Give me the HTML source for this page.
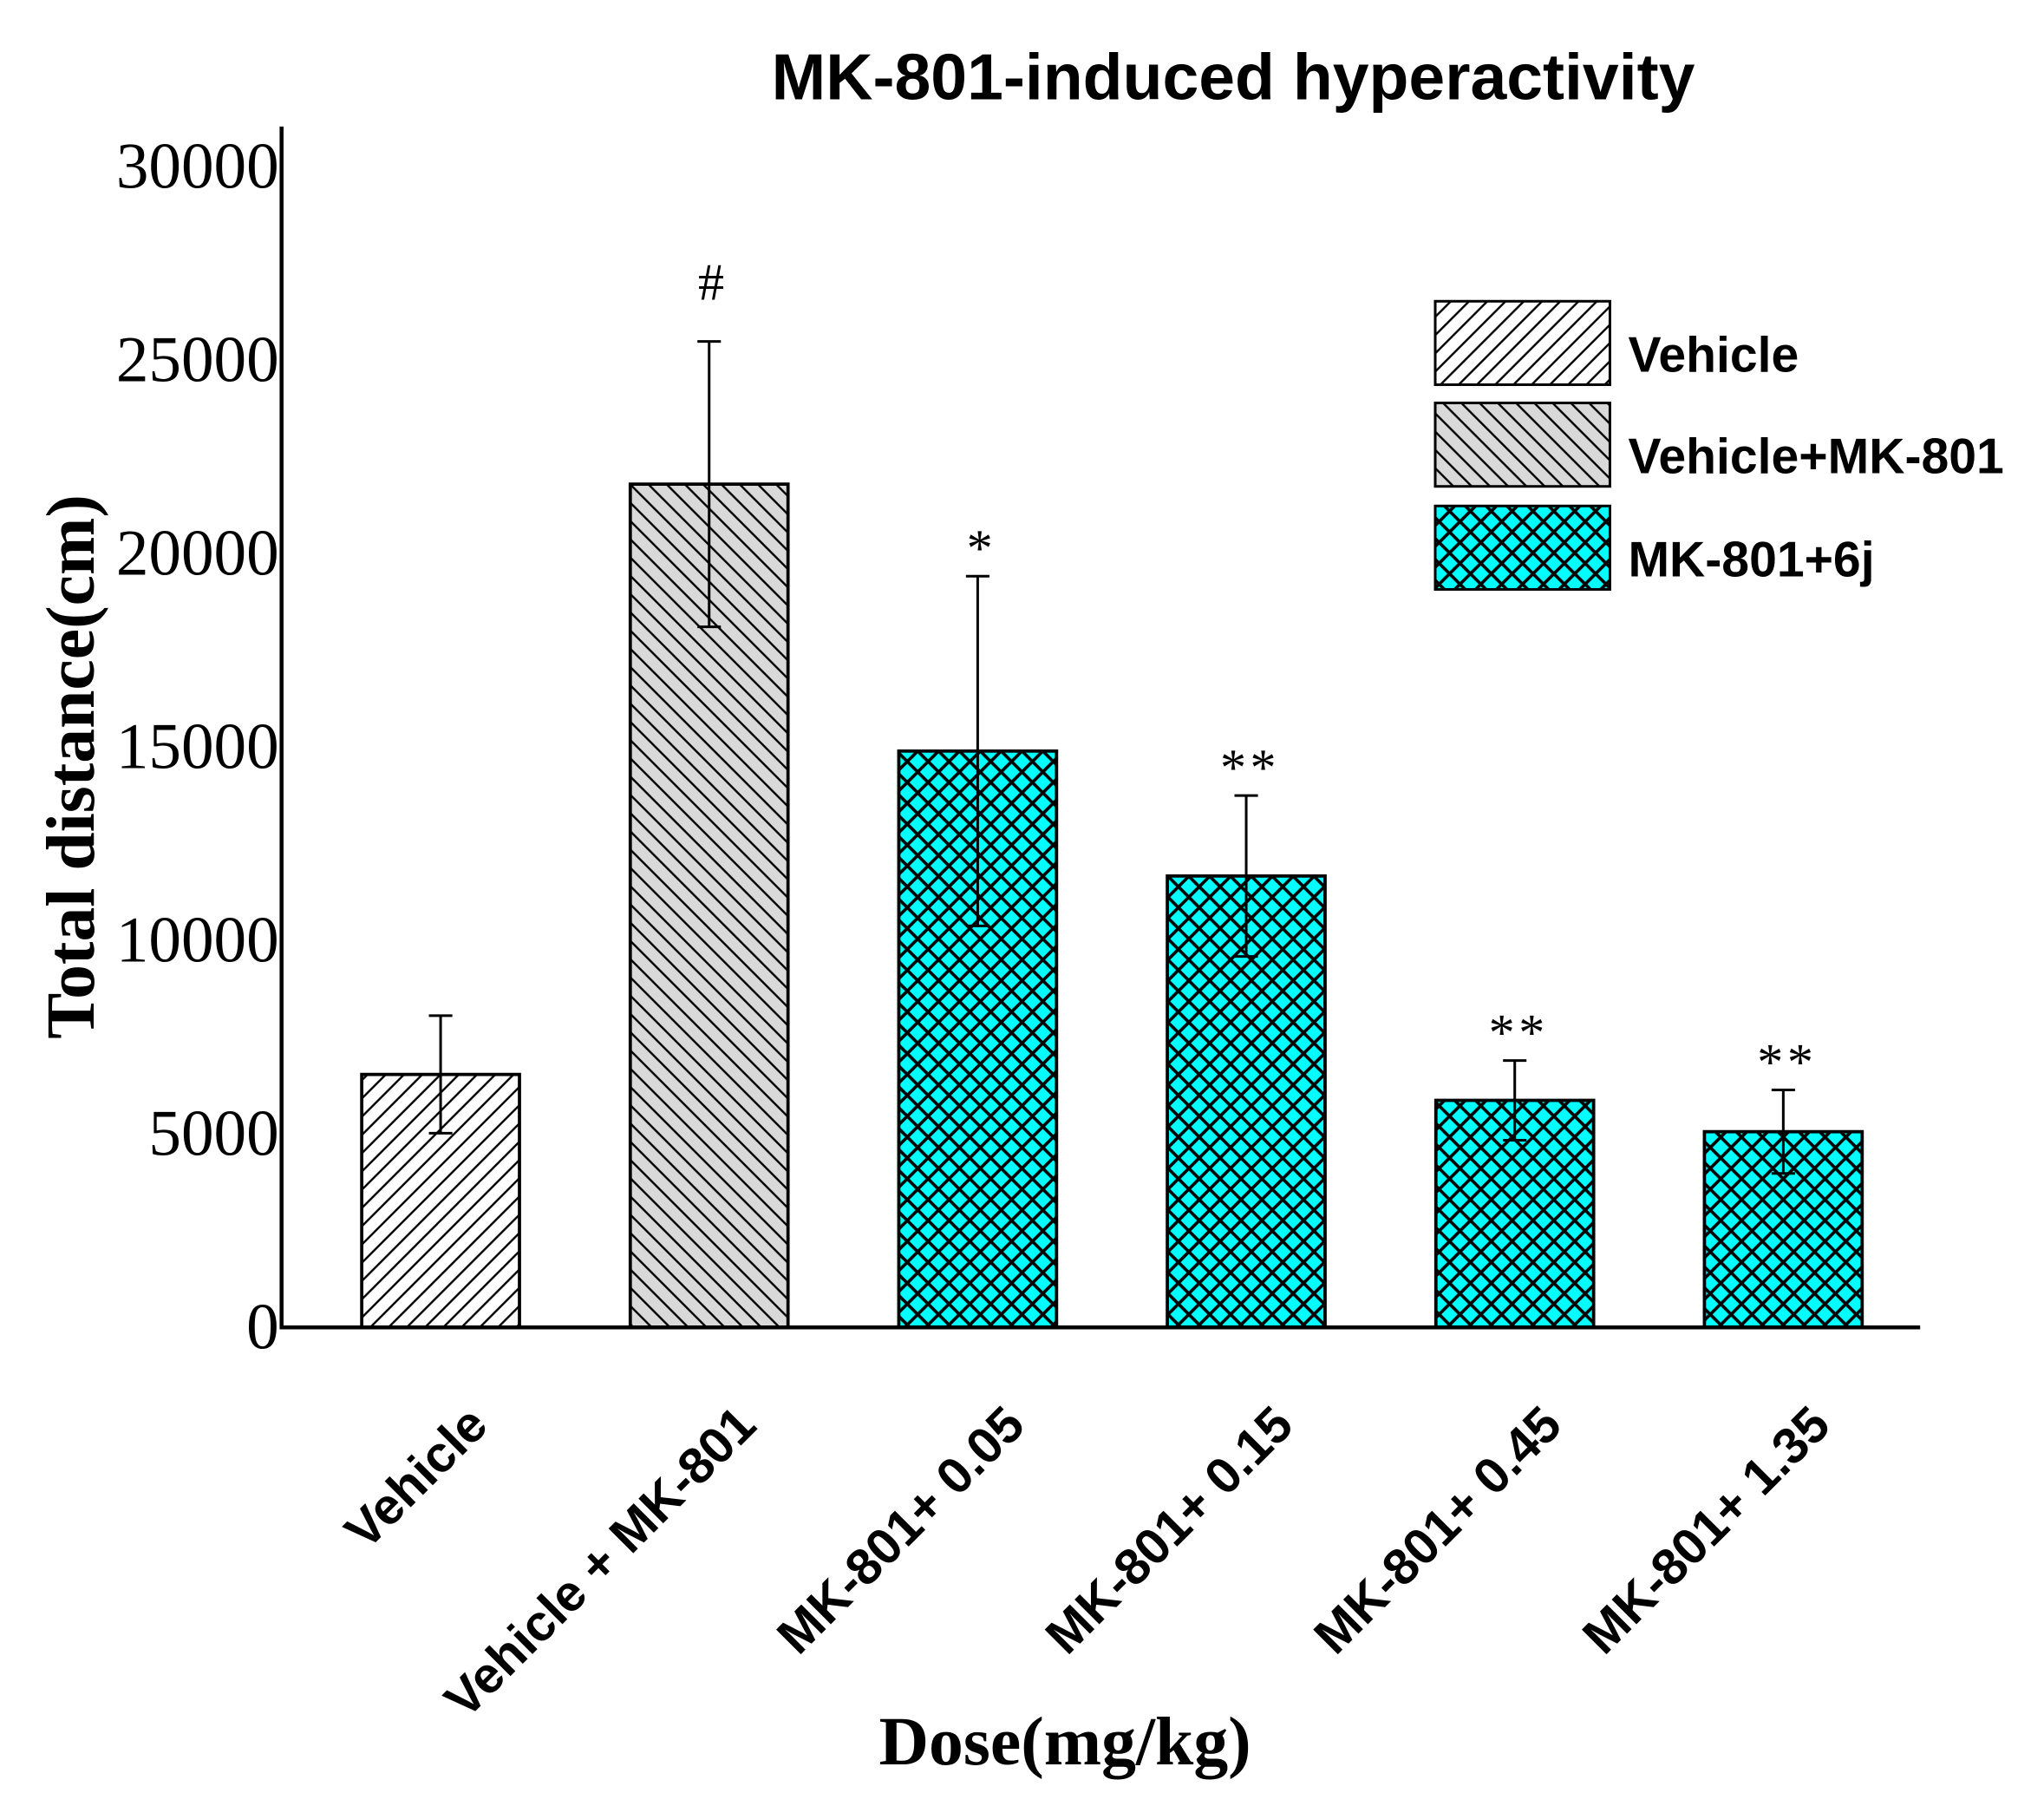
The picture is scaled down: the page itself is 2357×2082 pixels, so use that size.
<!DOCTYPE html>
<html><head><meta charset="utf-8"><style>html,body{margin:0;padding:0;background:#fff}svg{display:block}</style></head>
<body>
<svg id="chart" xmlns="http://www.w3.org/2000/svg" width="2357" height="2082" viewBox="0 0 1568 1385">
<defs>
<pattern id="pVeh" patternUnits="userSpaceOnUse" width="14" height="14">
<rect width="14" height="14" fill="#fff"/><path d="M-2,16 L16,-2 M-2,2 L2,-2 M12,16 L16,12" stroke="#000" stroke-width="1.6"/></pattern>
<pattern id="pMK" patternUnits="userSpaceOnUse" width="14" height="14">
<rect width="14" height="14" fill="#d9d9d9"/><path d="M-2,-2 L16,16 M-2,12 L2,16 M12,-2 L16,2" stroke="#000" stroke-width="1.6"/></pattern>
<pattern id="p6j" patternUnits="userSpaceOnUse" width="16" height="16">
<rect width="16" height="16" fill="#00ffff"/><path d="M-2,-2 L18,18 M-2,18 L18,-2 M-2,14 L2,18 M14,-2 L18,2 M-2,2 L2,-2 M14,18 L18,14" stroke="#000" stroke-width="2.4"/></pattern>
</defs>
<text x="946" y="76" text-anchor="middle" font-family="Liberation Sans, sans-serif" font-weight="bold" font-size="50">MK-801-induced hyperactivity</text>
<g id="plot"></g>
<text transform="translate(72,588) rotate(-90)" text-anchor="middle" font-family="Liberation Serif, serif" font-weight="bold" font-size="53">Total distance(cm)</text>
<text x="817" y="1353" text-anchor="middle" font-family="Liberation Serif, serif" font-weight="bold" font-size="53">Dose(mg/kg)</text>
<g font-family="Liberation Sans, sans-serif" font-weight="bold" font-size="38">
<rect x="1101" y="231" width="134" height="64" fill="url(#pVeh)" stroke="#000" stroke-width="2"/>
<text x="1249" y="285">Vehicle</text>
<rect x="1101" y="309" width="134" height="64" fill="url(#pMK)" stroke="#000" stroke-width="2"/>
<text x="1249" y="363">Vehicle+MK-801</text>
<rect x="1101" y="388" width="134" height="64" fill="url(#p6j)" stroke="#000" stroke-width="2"/>
<text x="1249" y="442">MK-801+6j</text>
</g>
</svg>
<script>
const categories = ["Vehicle","Vehicle + MK-801","MK-801+ 0.05","MK-801+ 0.15","MK-801+ 0.45","MK-801+ 1.35"];
const means = [6540, 21800, 14900, 11670, 5870, 5060];
const errors = [1520, 3690, 4520, 2080, 1030, 1080];
const groups = ["veh","mk","6j","6j","6j","6j"];
const marks = ["", "#", "*", "**", "**", "**"];
const yTicks = [0, 5000, 10000, 15000, 20000, 25000, 30000];

const NS = "http://www.w3.org/2000/svg";
const g = document.getElementById("plot");
const x0 = 216, xEnd = 1473, yBase = 1018, yTop = 128, yMax = 30000;
const y = v => yBase - (v / yMax) * (yBase - yTop);
const slot = 206, firstC = 338, bw = 121;
const xc = i => firstC + i * slot;
const fills = {veh: "url(#pVeh)", mk: "url(#pMK)", "6j": "url(#p6j)"};
function mk(tag, attrs) { const e = document.createElementNS(NS, tag); for (const k in attrs) e.setAttribute(k, attrs[k]); g.appendChild(e); return e; }

categories.forEach((c, i) => {
  const b = mk("rect", {x: xc(i) - bw / 2, y: y(means[i]), width: bw, height: yBase - y(means[i]), fill: fills[groups[i]], stroke: "#000", "stroke-width": 2.5});
  
  
  const e = mk("path", {d: `M${xc(i)},${y(means[i] - errors[i])} V${y(means[i] + errors[i])} M${xc(i) - 9},${y(means[i] + errors[i])} H${xc(i) + 9} M${xc(i) - 9},${y(means[i] - errors[i])} H${xc(i) + 9}`, stroke: "#000", "stroke-width": 2, fill: "none"});
  
  
  if (marks[i]) {
    const t = mk("text", {x: xc(i) + 3, y: y(means[i] + errors[i]) - (marks[i] === "#" ? 32 : 8), "text-anchor": "middle", "font-family": "Liberation Serif, serif", "font-size": 40, "letter-spacing": 3});
    t.textContent = marks[i];
    
    
  }
  const l = mk("text", {transform: `translate(${xc(i) + 38},${1095}) rotate(-45)`, "text-anchor": "end", "font-family": "Liberation Sans, sans-serif", "font-weight": "bold", "font-size": 39});
  l.textContent = c;
  
  
});

yTicks.forEach(v => {
  const t = mk("text", {x: 214, y: y(v) + 16, "text-anchor": "end", "font-family": "Liberation Serif, serif", "font-size": 50});
  t.textContent = v;
  
  
});

const ya = mk("line", {x1: x0, y1: 97, x2: x0, y2: yBase + 1.5, stroke: "#000", "stroke-width": 3});


const xa = mk("line", {x1: x0, y1: yBase, x2: xEnd, y2: yBase, stroke: "#000", "stroke-width": 3});


</script>
</body></html>
